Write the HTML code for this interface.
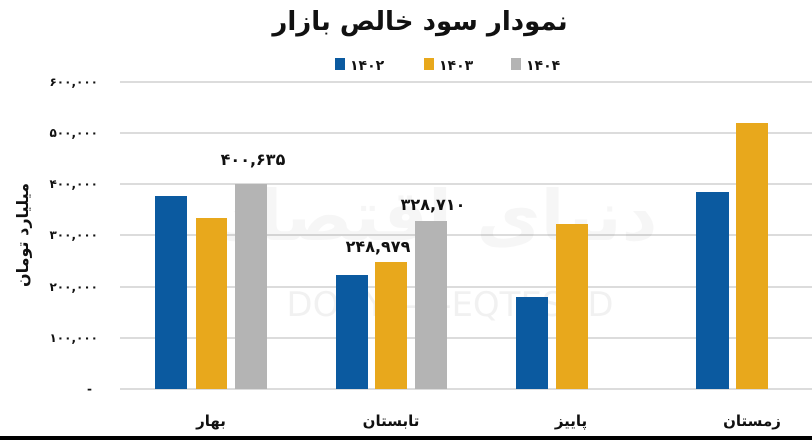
<!DOCTYPE html>
<html><head><meta charset="utf-8"><style>
body{margin:0;width:812px;height:440px;background:#fff;overflow:hidden;position:relative;font-family:"DejaVu Sans","Liberation Sans",sans-serif;}
</style></head><body>
<svg width="812" height="440" xmlns="http://www.w3.org/2000/svg" style="position:absolute;left:0;top:0">
<g font-family="DejaVu Sans, sans-serif" font-weight="bold">
<text x="420" y="30" font-size="26" text-anchor="middle" fill="#111">نمودار سود خالص بازار</text>
<rect x="335" y="58" width="10" height="12" fill="#0b5aa0"/><text x="350" y="70" font-size="14" fill="#111">۱۴۰۲</text>
<rect x="424" y="58" width="10" height="12" fill="#e8a81c"/><text x="439" y="70" font-size="14" fill="#111">۱۴۰۳</text>
<rect x="511" y="58" width="10" height="12" fill="#b4b4b4"/><text x="526" y="70" font-size="14" fill="#111">۱۴۰۴</text>
<g stroke="#dcdcdc" stroke-width="2">
<line x1="120" y1="82" x2="812" y2="82"/><line x1="120" y1="133" x2="812" y2="133"/><line x1="120" y1="184" x2="812" y2="184"/><line x1="120" y1="235" x2="812" y2="235"/><line x1="120" y1="287" x2="812" y2="287"/><line x1="120" y1="338" x2="812" y2="338"/><line x1="120" y1="389" x2="812" y2="389"/>
</g>
<g font-size="12" fill="#111" text-anchor="end">
<text x="98" y="86">۶۰۰,۰۰۰</text><text x="98" y="137">۵۰۰,۰۰۰</text><text x="98" y="188">۴۰۰,۰۰۰</text><text x="98" y="239">۳۰۰,۰۰۰</text><text x="98" y="291">۲۰۰,۰۰۰</text><text x="98" y="342">۱۰۰,۰۰۰</text><text x="92" y="393">-</text>
</g>
<text transform="translate(28,235) rotate(-90)" font-size="16" text-anchor="middle" fill="#111">میلیارد تومان</text>
<text x="440" y="240" font-size="70" fill="#000" opacity="0.03" text-anchor="middle">دنیای اقتصاد</text>
<text x="450" y="316" font-size="34" fill="#000" opacity="0.05" text-anchor="middle" font-weight="normal">DONYA-E-EQTESAD</text>
<rect x="155" y="196" width="32" height="193" fill="#0b5aa0"/>
<rect x="196" y="218" width="31" height="171" fill="#e8a81c"/>
<rect x="235" y="184" width="32" height="205" fill="#b4b4b4"/>
<rect x="336" y="275" width="32" height="114" fill="#0b5aa0"/>
<rect x="375" y="262" width="32" height="127" fill="#e8a81c"/>
<rect x="415" y="221" width="32" height="168" fill="#b4b4b4"/>
<rect x="516" y="297" width="32" height="92" fill="#0b5aa0"/>
<rect x="556" y="224" width="32" height="165" fill="#e8a81c"/>
<rect x="696" y="192" width="33" height="197" fill="#0b5aa0"/>
<rect x="736" y="123" width="32" height="266" fill="#e8a81c"/>
<g font-size="16" fill="#111" text-anchor="middle">
<text x="253" y="165">۴۰۰,۶۳۵</text><text x="433" y="210">۳۲۸,۷۱۰</text><text x="378" y="252">۲۴۸,۹۷۹</text>
</g>
<g font-size="15" fill="#111" text-anchor="middle">
<text x="211" y="426">بهار</text><text x="391" y="426">تابستان</text><text x="571" y="426">پاییز</text><text x="752" y="426">زمستان</text>
</g>
</g>
<rect x="0" y="436" width="812" height="4" fill="#000"/>
</svg>
</body></html>
